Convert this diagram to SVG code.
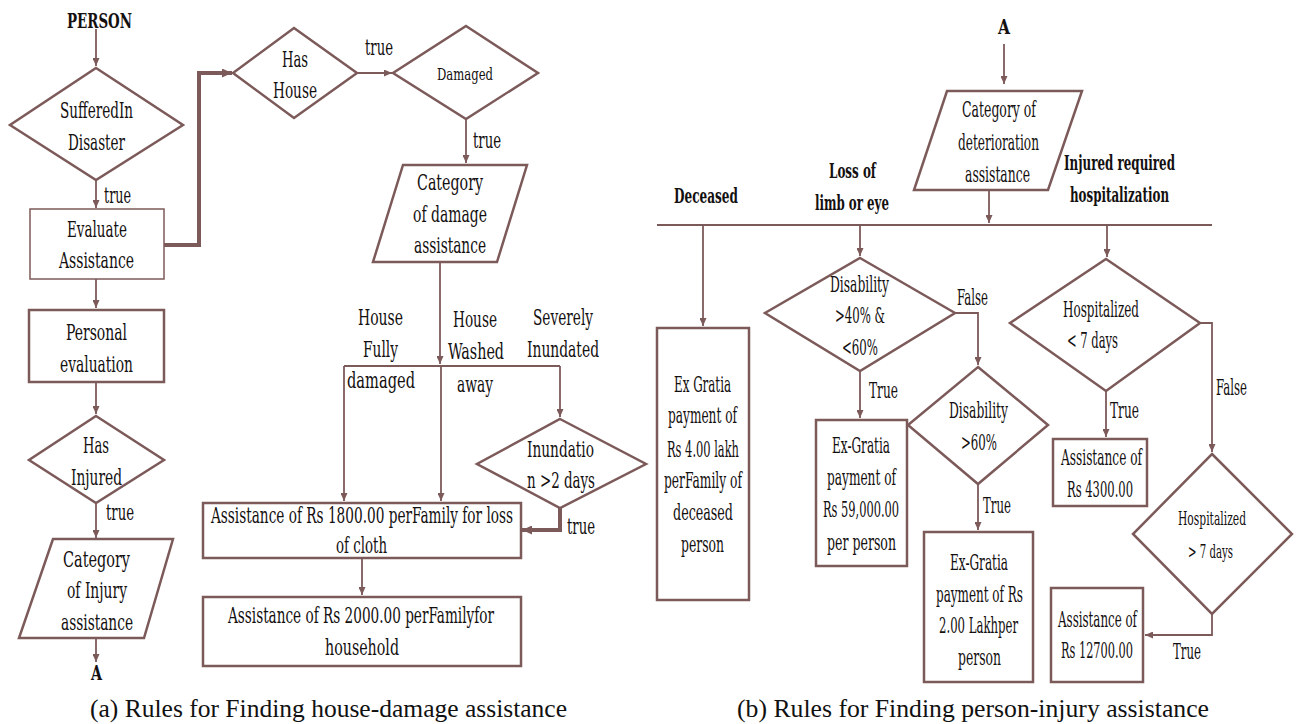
<svg xmlns="http://www.w3.org/2000/svg" width="1297" height="724" viewBox="0 0 1297 724">
  <style>
    .shape { fill: #ffffff; stroke: #7d5a5a; stroke-width: 2.5; stroke-linejoin: miter; }
    .thin { stroke-width: 1.5; }
    .wire { fill: none; stroke: #7d5a5a; stroke-width: 1.8; }
    .heavy { fill: none; stroke: #7d5a5a; stroke-width: 4; }
    .t { font-family: "DejaVu Serif Condensed", "DejaVu Serif", "Liberation Serif", serif; font-stretch: condensed; font-size: 22px; fill: #141010; }
    .s { font-size: 17px; }
    .m { font-size: 19px; }
    .b { font-weight: bold; font-size: 21px; }
    .cap { font-family: "Liberation Serif", "Times New Roman", serif; font-size: 25px; fill: #111; }
  </style>
  <defs>
    <marker id="arr" viewBox="0 0 8 7" refX="8" refY="3.5" markerWidth="8" markerHeight="7" markerUnits="userSpaceOnUse" orient="auto">
      <path d="M0,0 L8,3.5 L0,7 z" fill="#7d5a5a"/>
    </marker>
    <marker id="arrH" viewBox="0 0 10 9" refX="10" refY="4.5" markerWidth="10" markerHeight="9" markerUnits="userSpaceOnUse" orient="auto">
      <path d="M0,0 L10,4.5 L0,9 z" fill="#7d5a5a"/>
    </marker>
  </defs>

  <!-- connectors -->
  <g id="connectors">
    <!-- panel a -->
    <line class="wire" x1="96" y1="29" x2="96" y2="66" marker-end="url(#arr)"/>
    <line class="wire" x1="96" y1="180" x2="96" y2="208" marker-end="url(#arr)"/>
    <polyline class="heavy" points="164,245 199,245 199,73 232,73" marker-end="url(#arrH)"/>
    <line class="wire" x1="96" y1="279" x2="96" y2="308" marker-end="url(#arr)"/>
    <line class="wire" x1="96" y1="382" x2="96" y2="414" marker-end="url(#arr)"/>
    <line class="wire" x1="96" y1="503" x2="96" y2="538" marker-end="url(#arr)"/>
    <line class="wire" x1="96" y1="638" x2="96" y2="662" marker-end="url(#arr)"/>
    <line class="wire" x1="357" y1="73" x2="392" y2="73" stroke-width="3" marker-end="url(#arr)"/>
    <line class="wire" x1="466" y1="119" x2="466" y2="163" marker-end="url(#arr)"/>
    <line class="wire" x1="440" y1="262" x2="440" y2="364" marker-end="url(#arr)"/>
    <line class="wire" x1="344" y1="366" x2="560" y2="366"/>
    <line class="wire" x1="344" y1="366" x2="344" y2="501" marker-end="url(#arr)"/>
    <line class="wire" x1="441" y1="366" x2="441" y2="501" marker-end="url(#arr)"/>
    <line class="wire" x1="560" y1="366" x2="560" y2="417" marker-end="url(#arr)"/>
    <polyline class="heavy" points="560,508 560,530 522,530" marker-end="url(#arrH)"/>
    <line class="wire" x1="362" y1="558" x2="362" y2="595" marker-end="url(#arr)"/>
    <!-- panel b -->
    <line class="wire" x1="1004" y1="44" x2="1004" y2="84" marker-end="url(#arr)"/>
    <line class="wire" x1="989" y1="190" x2="989" y2="223" marker-end="url(#arr)"/>
    <line class="wire" x1="657" y1="225" x2="1212" y2="225"/>
    <line class="wire" x1="703" y1="225" x2="703" y2="326" marker-end="url(#arr)"/>
    <line class="wire" x1="860" y1="225" x2="860" y2="256" marker-end="url(#arr)"/>
    <line class="wire" x1="1107" y1="225" x2="1107" y2="257" marker-end="url(#arr)"/>
    <polyline class="wire" points="955,313 978,313 978,365" stroke-width="2.5" marker-end="url(#arr)"/>
    <line class="wire" x1="860" y1="371" x2="860" y2="418" marker-end="url(#arr)"/>
    <line class="wire" x1="978" y1="484" x2="978" y2="530" marker-end="url(#arr)"/>
    <line class="wire" x1="1106" y1="391" x2="1106" y2="437" marker-end="url(#arr)"/>
    <polyline class="wire" points="1200,323 1212,323 1212,452" stroke-width="2.5" marker-end="url(#arr)"/>
    <polyline class="wire" points="1212,614 1212,635 1145,635" stroke-width="3" marker-end="url(#arr)"/>
  </g>

  <!-- edge labels -->
  <g id="edge-labels">
    <text class="t" x="104" y="203" textLength="27" lengthAdjust="spacingAndGlyphs">true</text>
    <text class="t" x="106" y="520" textLength="28" lengthAdjust="spacingAndGlyphs">true</text>
    <text class="t" x="365" y="55" textLength="28" lengthAdjust="spacingAndGlyphs">true</text>
    <text class="t" x="473" y="148" textLength="28" lengthAdjust="spacingAndGlyphs">true</text>
    <text class="t" x="358" y="325" textLength="45" lengthAdjust="spacingAndGlyphs">House</text>
    <text class="t" x="363" y="357" textLength="35" lengthAdjust="spacingAndGlyphs">Fully</text>
    <text class="t" x="347" y="388" textLength="68" lengthAdjust="spacingAndGlyphs">damaged</text>
    <text class="t" x="453" y="327" textLength="44" lengthAdjust="spacingAndGlyphs">House</text>
    <text class="t" x="448" y="359" textLength="56" lengthAdjust="spacingAndGlyphs">Washed</text>
    <text class="t" x="457" y="392" textLength="36" lengthAdjust="spacingAndGlyphs">away</text>
    <text class="t" x="533" y="325" textLength="60" lengthAdjust="spacingAndGlyphs">Severely</text>
    <text class="t" x="527" y="357" textLength="72" lengthAdjust="spacingAndGlyphs">Inundated</text>
    <text class="t" x="567" y="534" textLength="28" lengthAdjust="spacingAndGlyphs">true</text>

    <text class="t b" x="674" y="203" textLength="64" lengthAdjust="spacingAndGlyphs">Deceased</text>
    <text class="t b" x="829" y="178" textLength="47" lengthAdjust="spacingAndGlyphs">Loss of</text>
    <text class="t b" x="815" y="210" textLength="74" lengthAdjust="spacingAndGlyphs">limb or eye</text>
    <text class="t b" x="1064" y="170" textLength="111" lengthAdjust="spacingAndGlyphs">Injured required</text>
    <text class="t b" x="1070" y="202" textLength="99" lengthAdjust="spacingAndGlyphs">hospitalization</text>
    <text class="t" x="957" y="305" textLength="31" lengthAdjust="spacingAndGlyphs">False</text>
    <text class="t" x="869" y="398" textLength="29" lengthAdjust="spacingAndGlyphs">True</text>
    <text class="t" x="983" y="513" textLength="28" lengthAdjust="spacingAndGlyphs">True</text>
    <text class="t" x="1110" y="418" textLength="29" lengthAdjust="spacingAndGlyphs">True</text>
    <text class="t" x="1216" y="395" textLength="31" lengthAdjust="spacingAndGlyphs">False</text>
    <text class="t" x="1173" y="659" textLength="28" lengthAdjust="spacingAndGlyphs">True</text>
  </g>

  <!-- panel a nodes -->
  <g id="person">
    <text class="t b" x="67" y="28" textLength="65" lengthAdjust="spacingAndGlyphs">PERSON</text>
  </g>
  <g id="suffered-in-disaster">
    <polygon class="shape" points="96,68 183,125 96,180 10,125"/>
    <text class="t" x="60" y="118" textLength="73" lengthAdjust="spacingAndGlyphs">SufferedIn</text>
    <text class="t" x="68" y="150" textLength="57" lengthAdjust="spacingAndGlyphs">Disaster</text>
  </g>
  <g id="evaluate-assistance">
    <rect class="shape thin" x="30" y="209" width="134" height="70"/>
    <text class="t" x="67" y="237" textLength="60" lengthAdjust="spacingAndGlyphs">Evaluate</text>
    <text class="t" x="59" y="268" textLength="75" lengthAdjust="spacingAndGlyphs">Assistance</text>
  </g>
  <g id="personal-evaluation">
    <rect class="shape" x="29" y="310" width="135" height="72"/>
    <text class="t" x="66" y="340" textLength="61" lengthAdjust="spacingAndGlyphs">Personal</text>
    <text class="t" x="60" y="372" textLength="73" lengthAdjust="spacingAndGlyphs">evaluation</text>
  </g>
  <g id="has-injured">
    <polygon class="shape" points="96,416 164,460 96,503 29,460"/>
    <text class="t" x="83" y="453" textLength="26" lengthAdjust="spacingAndGlyphs">Has</text>
    <text class="t" x="71" y="485" textLength="51" lengthAdjust="spacingAndGlyphs">Injured</text>
  </g>
  <g id="category-of-injury">
    <polygon class="shape" points="53,539 173,539 144,638 19,638"/>
    <text class="t" x="63" y="567" textLength="67" lengthAdjust="spacingAndGlyphs">Category</text>
    <text class="t" x="67" y="598" textLength="60" lengthAdjust="spacingAndGlyphs">of Injury</text>
    <text class="t" x="61" y="630" textLength="72" lengthAdjust="spacingAndGlyphs">assistance</text>
  </g>
  <g id="connector-a-out">
    <text class="t b" x="91" y="680" textLength="11" lengthAdjust="spacingAndGlyphs">A</text>
  </g>
  <g id="has-house">
    <polygon class="shape" points="294,28 357,73 294,118 233,73"/>
    <text class="t" x="282" y="67" textLength="26" lengthAdjust="spacingAndGlyphs">Has</text>
    <text class="t" x="273" y="98" textLength="44" lengthAdjust="spacingAndGlyphs">House</text>
  </g>
  <g id="damaged">
    <polygon class="shape" points="466,26 538,73 466,119 393,73"/>
    <text class="t s" x="437" y="80" textLength="56" lengthAdjust="spacingAndGlyphs">Damaged</text>
  </g>
  <g id="category-of-damage">
    <polygon class="shape" points="403,165 527,165 497,262 373,262"/>
    <text class="t" x="417" y="190" textLength="66" lengthAdjust="spacingAndGlyphs">Category</text>
    <text class="t" x="413" y="222" textLength="74" lengthAdjust="spacingAndGlyphs">of damage</text>
    <text class="t" x="414" y="253" textLength="72" lengthAdjust="spacingAndGlyphs">assistance</text>
  </g>
  <g id="inundation">
    <polygon class="shape" points="560,419 646,464 560,508 477,464"/>
    <text class="t" x="527" y="457" textLength="67" lengthAdjust="spacingAndGlyphs">Inundatio</text>
    <text class="t" x="527" y="488" textLength="68" lengthAdjust="spacingAndGlyphs">n &gt;2 days</text>
  </g>
  <g id="cloth-assistance">
    <rect class="shape" x="203" y="503" width="318" height="55"/>
    <text class="t" x="211" y="523" textLength="302" lengthAdjust="spacingAndGlyphs">Assistance of Rs 1800.00 perFamily for loss</text>
    <text class="t" x="336" y="553" textLength="51" lengthAdjust="spacingAndGlyphs">of cloth</text>
  </g>
  <g id="household-assistance">
    <rect class="shape" x="203" y="597" width="318" height="69"/>
    <text class="t" x="228" y="623" textLength="266" lengthAdjust="spacingAndGlyphs">Assistance of Rs 2000.00 perFamilyfor</text>
    <text class="t" x="325" y="655" textLength="74" lengthAdjust="spacingAndGlyphs">household</text>
  </g>

  <!-- panel b nodes -->
  <g id="connector-a-in">
    <text class="t b" x="998" y="34" textLength="12" lengthAdjust="spacingAndGlyphs">A</text>
  </g>
  <g id="category-of-deterioration">
    <polygon class="shape" points="947,91 1082,91 1048,190 914,190"/>
    <text class="t" x="962" y="117" textLength="74" lengthAdjust="spacingAndGlyphs">Category of</text>
    <text class="t" x="958" y="150" textLength="81" lengthAdjust="spacingAndGlyphs">deterioration</text>
    <text class="t" x="965" y="182" textLength="65" lengthAdjust="spacingAndGlyphs">assistance</text>
  </g>
  <g id="deceased-payment">
    <rect class="shape" x="657" y="328" width="92" height="272"/>
    <text class="t" x="674" y="392" textLength="57" lengthAdjust="spacingAndGlyphs">Ex Gratia</text>
    <text class="t" x="668" y="423" textLength="69" lengthAdjust="spacingAndGlyphs">payment of</text>
    <text class="t" x="667" y="457" textLength="72" lengthAdjust="spacingAndGlyphs">Rs 4.00 lakh</text>
    <text class="t" x="664" y="488" textLength="78" lengthAdjust="spacingAndGlyphs">perFamily of</text>
    <text class="t" x="673" y="520" textLength="60" lengthAdjust="spacingAndGlyphs">deceased</text>
    <text class="t" x="681" y="552" textLength="43" lengthAdjust="spacingAndGlyphs">person</text>
  </g>
  <g id="disability-40-60">
    <polygon class="shape" points="860,258 955,313 860,371 765,313"/>
    <text class="t" x="830" y="292" textLength="59" lengthAdjust="spacingAndGlyphs">Disability</text>
    <text class="t" x="835" y="323" textLength="50" lengthAdjust="spacingAndGlyphs">&gt;40% &amp;</text>
    <text class="t" x="842" y="355" textLength="36" lengthAdjust="spacingAndGlyphs">&lt;60%</text>
  </g>
  <g id="payment-59000">
    <rect class="shape" x="816" y="420" width="91" height="146"/>
    <text class="t" x="832" y="453" textLength="58" lengthAdjust="spacingAndGlyphs">Ex-Gratia</text>
    <text class="t" x="827" y="485" textLength="69" lengthAdjust="spacingAndGlyphs">payment of</text>
    <text class="t" x="823" y="517" textLength="76" lengthAdjust="spacingAndGlyphs">Rs 59,000.00</text>
    <text class="t" x="827" y="550" textLength="69" lengthAdjust="spacingAndGlyphs">per person</text>
  </g>
  <g id="disability-60">
    <polygon class="shape" points="978,367 1048,425 978,484 908,425"/>
    <text class="t" x="949" y="418" textLength="59" lengthAdjust="spacingAndGlyphs">Disability</text>
    <text class="t" x="961" y="450" textLength="36" lengthAdjust="spacingAndGlyphs">&gt;60%</text>
  </g>
  <g id="payment-2-lakh">
    <rect class="shape" x="924" y="532" width="109" height="150"/>
    <text class="t" x="950" y="570" textLength="58" lengthAdjust="spacingAndGlyphs">Ex-Gratia</text>
    <text class="t" x="936" y="602" textLength="87" lengthAdjust="spacingAndGlyphs">payment of Rs</text>
    <text class="t" x="939" y="633" textLength="79" lengthAdjust="spacingAndGlyphs">2.00 Lakhper</text>
    <text class="t" x="958" y="665" textLength="43" lengthAdjust="spacingAndGlyphs">person</text>
  </g>
  <g id="hospitalized-under-7">
    <polygon class="shape" points="1106,259 1200,323 1106,391 1010,323"/>
    <text class="t" x="1063" y="317" textLength="76" lengthAdjust="spacingAndGlyphs">Hospitalized</text>
    <text class="t" x="1067" y="348" textLength="51" lengthAdjust="spacingAndGlyphs">&lt; 7 days</text>
  </g>
  <g id="assistance-4300">
    <rect class="shape" x="1053" y="439" width="94" height="67"/>
    <text class="t" x="1061" y="465" textLength="81" lengthAdjust="spacingAndGlyphs">Assistance of</text>
    <text class="t" x="1067" y="497" textLength="66" lengthAdjust="spacingAndGlyphs">Rs 4300.00</text>
  </g>
  <g id="hospitalized-over-7">
    <polygon class="shape" points="1212,454 1292,534 1212,614 1133,534"/>
    <text class="t m" x="1178" y="525" textLength="68" lengthAdjust="spacingAndGlyphs">Hospitalized</text>
    <text class="t m" x="1188" y="558" textLength="45" lengthAdjust="spacingAndGlyphs">&gt; 7 days</text>
  </g>
  <g id="assistance-12700">
    <rect class="shape" x="1051" y="588" width="92" height="94"/>
    <text class="t" x="1058" y="627" textLength="79" lengthAdjust="spacingAndGlyphs">Assistance of</text>
    <text class="t" x="1061" y="658" textLength="72" lengthAdjust="spacingAndGlyphs">Rs 12700.00</text>
  </g>

  <!-- captions -->
  <g id="captions">
    <text class="cap" x="90" y="717" textLength="477" lengthAdjust="spacingAndGlyphs">(a)  Rules for Finding house-damage assistance</text>
    <text class="cap" x="737" y="717" textLength="472" lengthAdjust="spacingAndGlyphs">(b)  Rules for Finding person-injury assistance</text>
  </g>
</svg>
